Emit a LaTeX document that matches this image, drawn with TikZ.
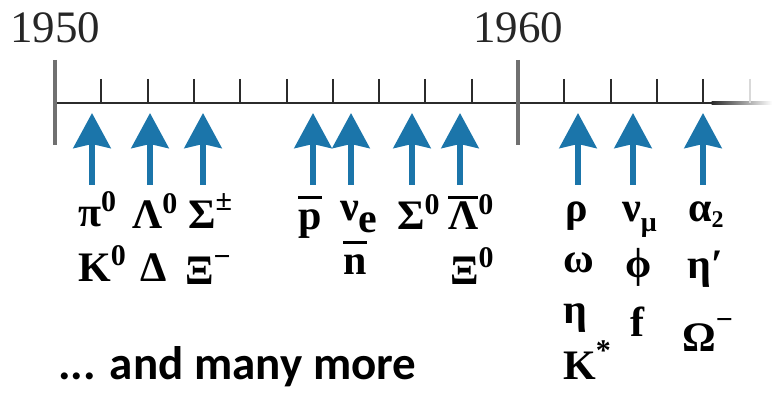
\documentclass[tikz,border=0pt]{standalone}
\usepackage{fontspec}
\setmainfont{Liberation Serif}
\newfontfamily\notefont{Carlito}
\usetikzlibrary{arrows.meta}
\definecolor{arrowblue}{HTML}{1B75AA}
\definecolor{axisgray}{HTML}{2B2B2B}
\definecolor{yeargray}{HTML}{707070}
\newcommand{\hi}[2][15pt]{\raisebox{#1}{\fontsize{30}{30}\selectfont #2}}
\newcommand{\lo}[3][8pt]{\raisebox{-#1}{\fontsize{#2}{#2}\selectfont #3}}
\newcommand{\barred}[1]{\setbox0\hbox{#1}\rlap{\raisebox{31pt}{\rule{\wd0}{3pt}}}\box0}

\begin{document}
\begin{tikzpicture}[x=1pt,y=-1pt,
    particle/.style={anchor=base west,inner sep=0pt,font=\fontsize{42}{42}\selectfont\bfseries},
    discovery/.style={arrowblue,line width=6pt,-{Stealth[length=35pt,width=37pt,inset=4pt]}}]
  \useasboundingbox (0,0) rectangle (772,398);
  \coordinate (start) at (55,103);
  \coordinate (fadeout) at (712,103);
  \draw[axisgray,line width=2.5pt] (start) -- (fadeout);
  \shade[left color=axisgray,right color=white] (711.5,101.75) rectangle (772,104.25);
  \foreach \k in {1,...,9,11,12,13,14}
    \draw[axisgray,line width=2pt] ({55+46.3*\k},79) -- ({55+46.3*\k},103);
  \draw[black!15,line width=2pt] ({55+46.3*15},79) -- ({55+46.3*15},103);
  \foreach \x/\yr in {55/1950,518/1960} {
    \draw[yeargray,line width=4pt] (\x,60) -- (\x,145);
    \node[anchor=base,inner sep=0pt,text=black!85,font=\fontsize{45}{45}\selectfont] (y\yr) at (\x,43) {\yr};
  }
  \foreach \x [count=\i] in {92,150,203,313,351,412,460,578,633,703} {
    \coordinate (tail\i) at (\x,185);
    \coordinate (tip\i) at (\x,113);
    \draw[discovery] (tail\i) -- (tip\i);
  }
  \node[particle] (pi0) at (78,227) {π\hi{0}};
  \node[particle] (lambda0) at (132,229) {Λ\hi{0}};
  \node[particle] (sigmapm) at (188,229) {Σ\hi[18pt]{±}};
  \node[particle] (kaon0) at (78,282) {K\hi[16pt]{0}};
  \node[particle] (delta) at (140,282) {Δ};
  \node[particle] (ximinus) at (185,285) {Ξ\hi[18pt]{−}};
  \node[particle] (pbar) at (298,230) {\barred{p}};
  \node[particle] (nue) at (340,221) {ν\lo[12pt]{42}{e}};
  \node[particle] (nbar) at (343,275) {\barred{n}};
  \node[particle] (sigma0) at (397,230) {Σ\hi{0}};
  \node[particle] (lambdabar) at (448,230) {\barred{Λ}\hi{0}};
  \node[particle] (xi0) at (450,285) {Ξ\hi[17pt]{0}};
  \node[particle] (rho) at (565,222) {ρ};
  \node[particle] (omega) at (563,273) {ω};
  \node[particle] (eta) at (563,324) {η};
  \node[particle] (kstar) at (563,380) {K\hi[20pt]{*}};
  \node[particle] (numu) at (622,222) {ν\lo[10pt]{28}{μ}};
  \node[particle] (phi) at (625,278) {ϕ};
  \node[particle] (f0) at (630,337) {f};
  \node[particle] (alpha2) at (688,222) {α\lo[6pt]{24}{2}};
  \node[particle] (etaprime) at (687,279) {η′};
  \node[particle] (omegaminus) at (682,352) {Ω\hi[22pt]{−}};
  \node[anchor=base west,inner sep=0pt,font=\notefont\bfseries\fontsize{47}{47}\selectfont] (more) at (58,380) {... and many more};
\end{tikzpicture}
\end{document}
